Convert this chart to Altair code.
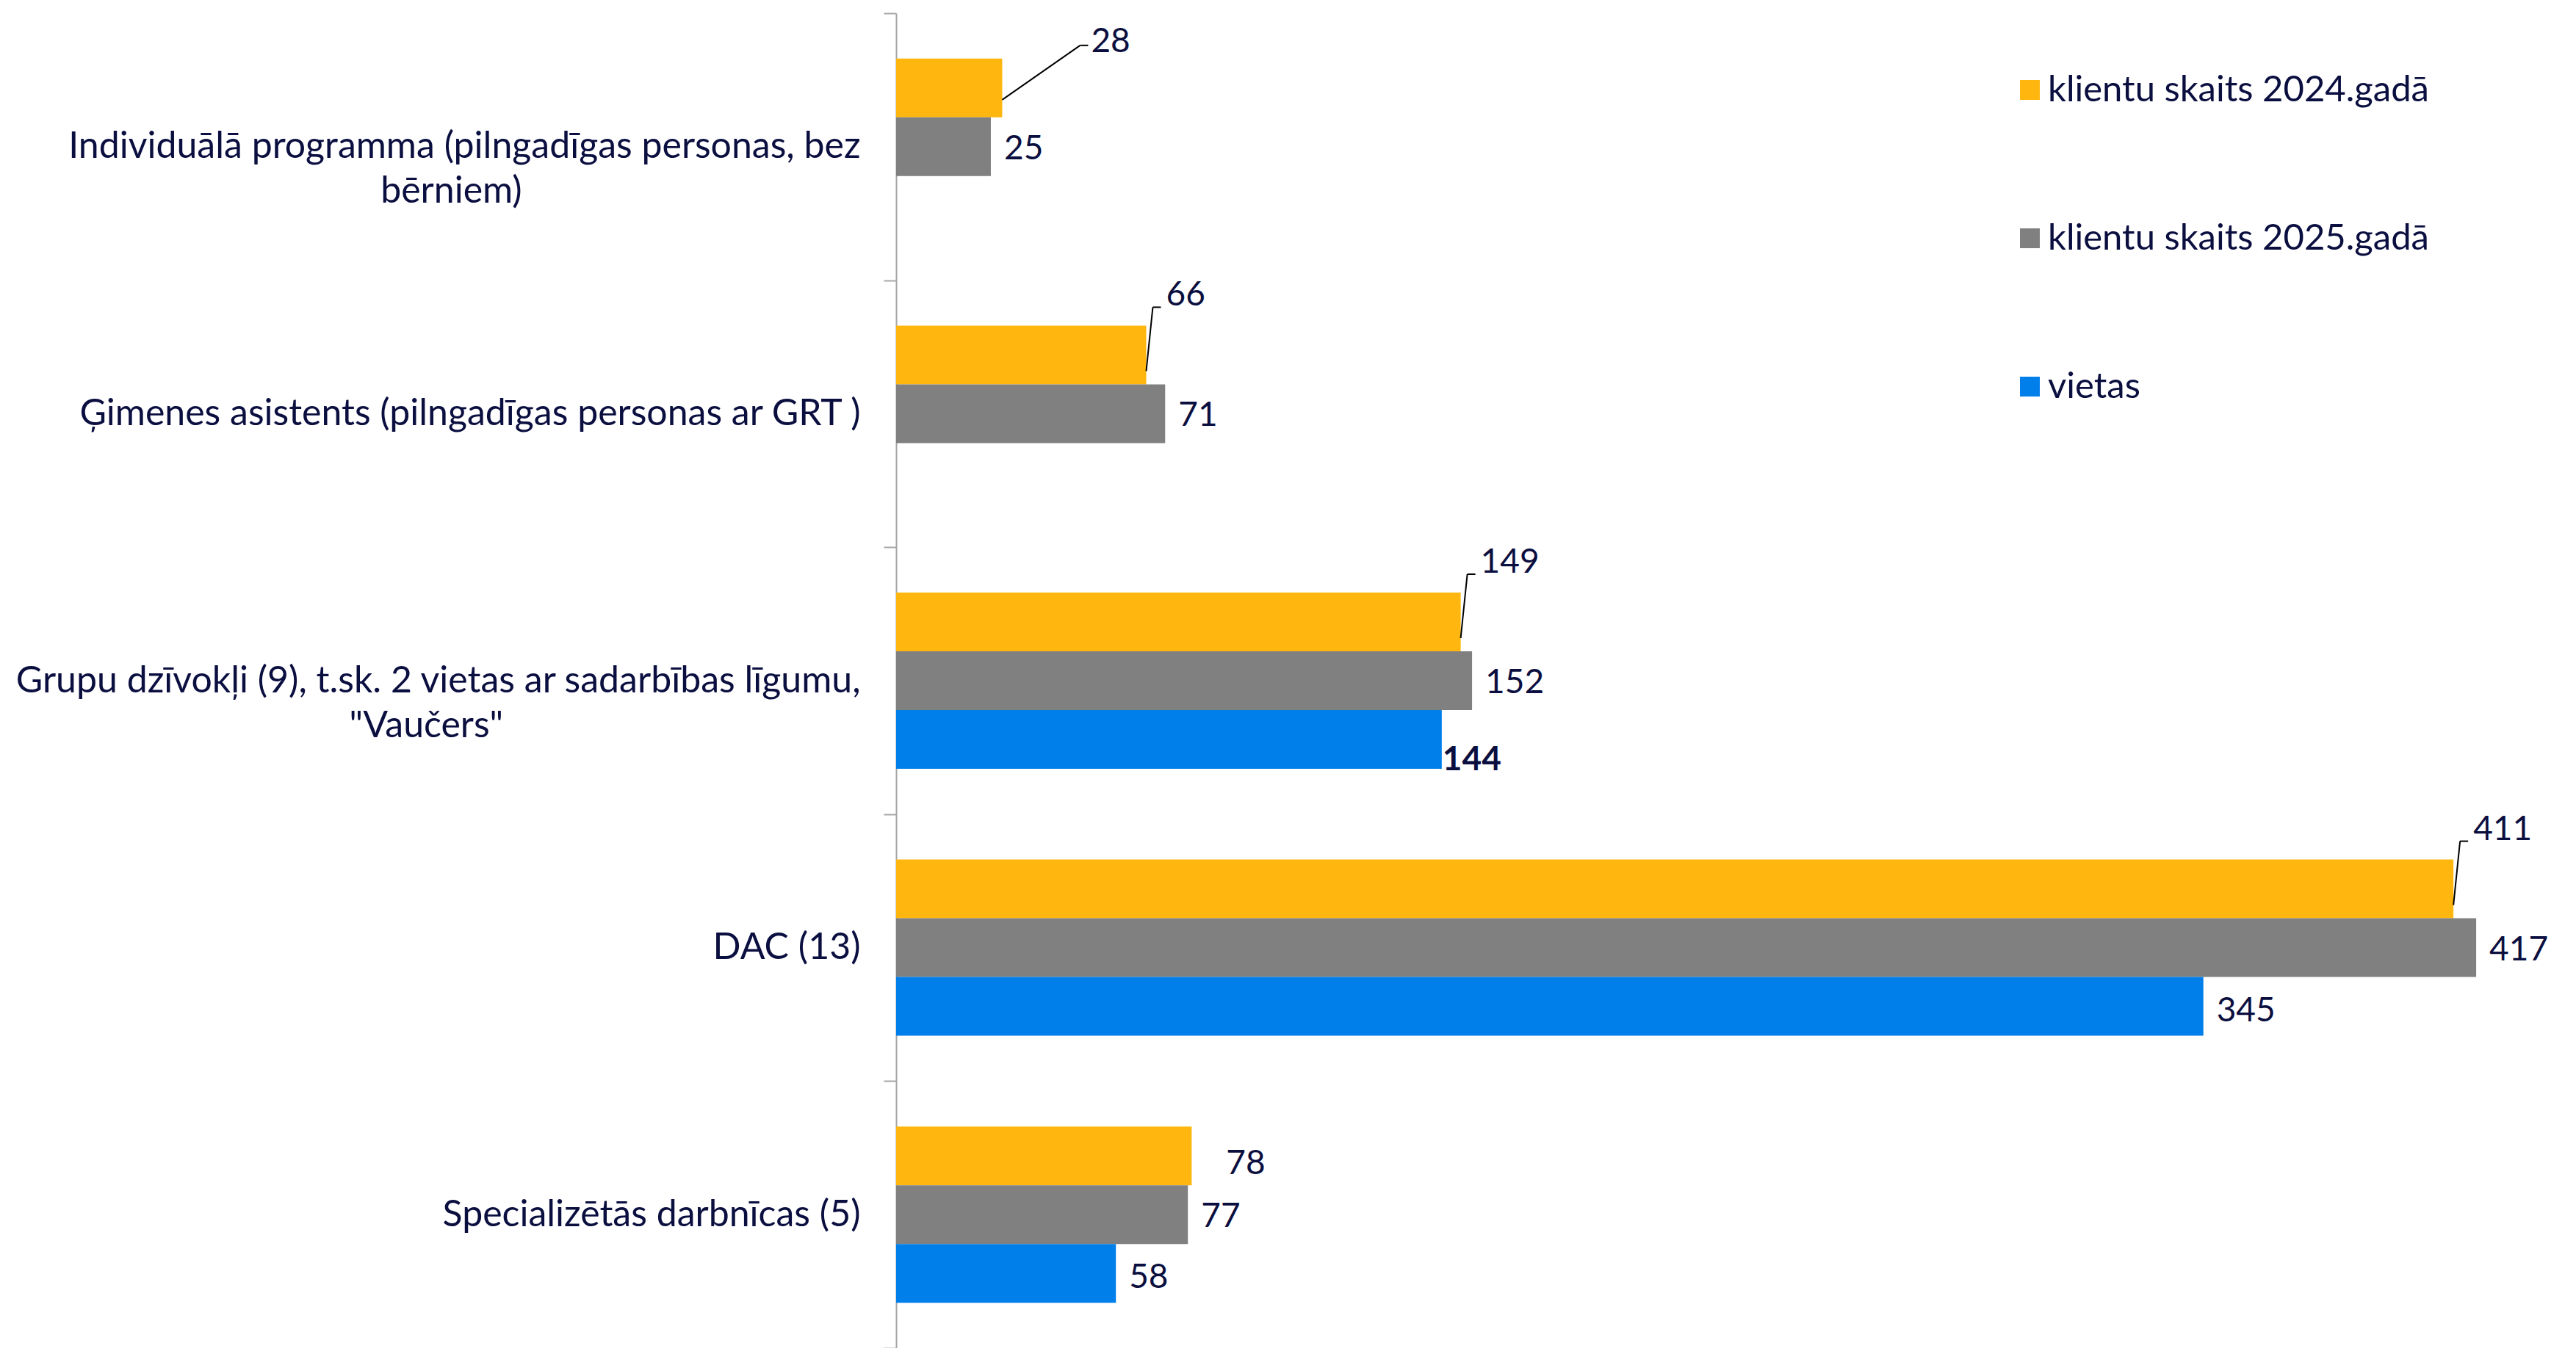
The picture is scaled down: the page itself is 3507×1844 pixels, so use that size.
import altair as alt
import pandas as pd

# ---- data ----
categories = [
    "Individuālā programma (pilngadīgas personas, bez|bērniem)",
    "Ģimenes asistents (pilngadīgas personas ar GRT )",
    "Grupu dzīvokļi (9), t.sk. 2 vietas ar sadarbības līgumu,|\"Vaučers\"",
    "DAC (13)",
    "Specializētās darbnīcas (5)",
]
series_names = ["klientu skaits 2024.gadā", "klientu skaits 2025.gadā", "vietas"]
clients_2024 = [28, 66, 149, 411, 78]
clients_2025 = [25, 71, 152, 417, 77]
places = [None, None, 144, 345, 58]
colors = ["#FFB60E", "#808080", "#007EEA"]

NAVY = "#0B0F40"
FONT = "Lato"
FS = 46        # data labels
FS_TXT = 50    # category labels
FS_LEG = 49    # legend labels

# trailing no-break spaces (closed by a zero-width space so they are not trimmed)
# so that the second line of a wrapped category label sits centred under the first
NBSP = "\u00a0"
ZWSP = "\u200b"
second_line_pad = {0: 36, 2: 38}

rows = []
for ci, cat in enumerate(categories):
    for si, vals in enumerate([clients_2024, clients_2025, places]):
        v = vals[ci]
        if v is not None:
            rows.append({"cat": cat, "ci": ci, "series": series_names[si], "si": si, "value": v})
df = pd.DataFrame(rows)

axis_labels = []
for ci, cat in enumerate(categories):
    parts = cat.split("|")
    if len(parts) > 1:
        parts[-1] = parts[-1] + NBSP * second_line_pad.get(ci, 0) + ZWSP
    axis_labels.append("|".join(parts))
cat_df = pd.DataFrame({"cat": axis_labels})

xscale = alt.Scale(domain=[0, 438.5], nice=False, zero=True)
yscale = alt.Scale(domain=[-0.5, 4.5], reverse=True, nice=False, zero=False)

base = alt.Chart(df).transform_calculate(
    ypos="datum.ci + (datum.si - 1) * 0.22",
    y0="datum.ypos - 0.11",
    y1="datum.ypos + 0.11",
)

bars = base.mark_bar().encode(
    x=alt.X("value:Q", scale=xscale, axis=None),
    x2=alt.datum(0),
    y=alt.Y("y0:Q", scale=yscale, axis=None),
    y2="y1:Q",
    color=alt.Color(
        "series:N",
        scale=alt.Scale(domain=series_names, range=colors),
        legend=alt.Legend(
            title=None, orient="none", legendX=1519, legendY=80,
            symbolType="square", symbolSize=729, symbolStrokeWidth=0,
            labelFont=FONT, labelFontSize=FS_LEG, labelColor=NAVY, labelLimit=0,
            rowPadding=152, labelOffset=0, padding=0,
        ),
    ),
)

def txt(data_chart, **kw):
    return data_chart.mark_text(
        align="left", baseline="middle", font=FONT, fontSize=FS, color=NAVY, **kw
    ).encode(
        x=alt.X("value:Q", scale=xscale, axis=None),
        y=alt.Y("ypos:Q", scale=yscale, axis=None),
        text="value:Q",
    )

grey_lbl = txt(base.transform_filter("datum.si == 1"), dx=18, dy=3)
blue_lbl = txt(base.transform_filter("datum.si == 2 && datum.ci != 2"), dx=18, dy=6)
blue_bold = txt(base.transform_filter("datum.si == 2 && datum.ci == 2"), dx=1, dy=28, fontWeight="bold")
orange_plain = txt(base.transform_filter("datum.si == 0 && datum.ci == 4"), dx=47, dy=11)

lead_a = base.transform_filter("datum.si == 0 && datum.ci >= 1 && datum.ci <= 3")
lead_b = base.transform_filter("datum.si == 0 && datum.ci == 0")

def leader(data_chart, y_start, y_end, x_end, x_hook):
    enc_x = alt.X("value:Q", scale=xscale, axis=None)
    enc_y = alt.Y("ypos:Q", scale=yscale, axis=None)
    diag = data_chart.mark_rule(
        color="black", strokeWidth=2, yOffset=y_start, y2Offset=y_end, x2Offset=x_end
    ).encode(x=enc_x, x2="value:Q", y=enc_y, y2="ypos:Q")
    hook = data_chart.mark_rule(
        color="black", strokeWidth=2, xOffset=x_end, x2Offset=x_hook, yOffset=y_end
    ).encode(x=enc_x, x2="value:Q", y=enc_y)
    return diag, hook

la_diag, la_hook = leader(lead_a, 22, -65, 9, 20)
lb_diag, lb_hook = leader(lead_b, 16, -58, 106, 117)
la_lbl = txt(lead_a, dx=27, dy=-81)
lb_lbl = txt(lead_b, dx=121, dy=-63)

data_layer = alt.layer(
    bars, grey_lbl, blue_lbl, blue_bold, orange_plain,
    la_diag, la_hook, la_lbl, lb_diag, lb_hook, lb_lbl,
)

axis_layer = alt.Chart(cat_df).mark_point(opacity=0).encode(
    x=alt.value(0),
    y=alt.Y(
        "cat:N",
        sort=axis_labels,
        scale=alt.Scale(type="band", paddingInner=0, paddingOuter=0),
        axis=alt.Axis(
            orient="left", title=None, grid=False,
            tickBand="extent", tickSize=17, tickWidth=2, tickColor="#A6A6A6",
            domainColor="#A6A6A6", domainWidth=2,
            labelFont=FONT, labelFontSize=FS_TXT, labelColor=NAVY,
            labelPadding=32, labelLimit=0, labelLineHeight=61,
            labelAlign="right", labelBaseline="middle",
            labelExpr="split(datum.label, '|')",
        ),
    ),
)

chart = alt.layer(axis_layer, data_layer).resolve_scale(y="independent").properties(
    width=2262,
    height=1818,
    padding={"left": 1212, "top": 10, "right": 0, "bottom": 0},
    autosize=alt.AutoSizeParams(type="none"),
).configure_view(stroke=None)

chart.save("out.html", embed_options={"renderer": "svg", "actions": False})
